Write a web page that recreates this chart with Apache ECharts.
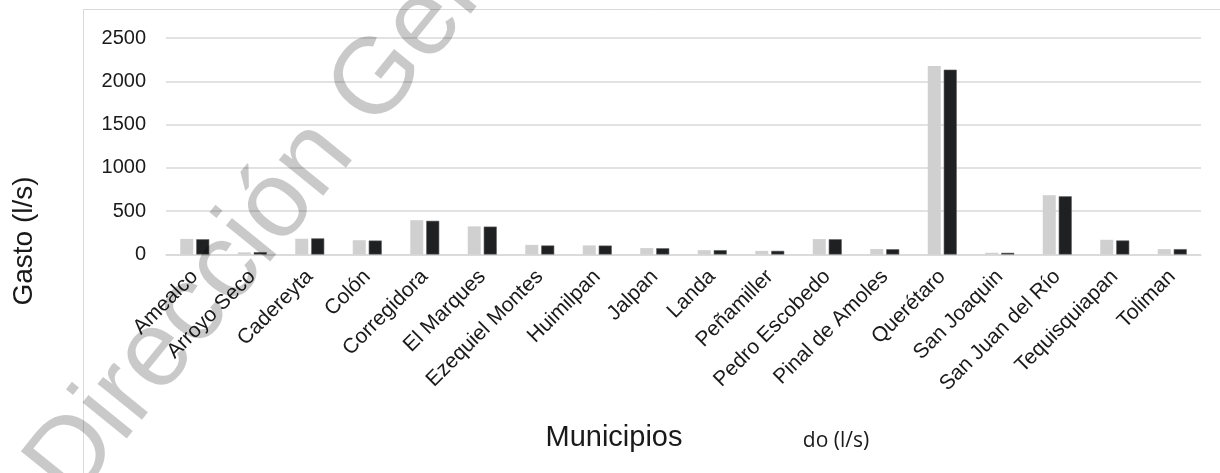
<!DOCTYPE html>
<html>
<head>
<meta charset="utf-8">
<script src="https://cdn.jsdelivr.net/npm/echarts@6/dist/echarts.min.js"></script>
<style>
  html, body { margin: 0; padding: 0; background: #fff; }
  #chart { width: 1220px; height: 473px; }
</style>
</head>
<body>
<div id="chart"></div>
<script>
// Municipios del estado y su gasto (l/s)
const municipios = [
  'Amealco', 'Arroyo Seco', 'Cadereyta', 'Colón', 'Corregidora', 'El Marques',
  'Ezequiel Montes', 'Huimilpan', 'Jalpan', 'Landa', 'Peñamiller', 'Pedro Escobedo',
  'Pinal de Amoles', 'Querétaro', 'San Joaquin', 'San Juan del Río', 'Tequisquiapan', 'Toliman'
];
const gastoConcesionado = [180, 25, 182, 165, 396, 325, 111, 105, 74, 50, 42, 178, 63, 2177, 20, 685, 170, 62];
const gastoExtraido     = [176, 27, 186, 161, 389, 322, 104, 103, 72, 50, 42, 176, 61, 2134, 19, 672, 162, 62];
const yTicks = { min: 0, max: 2500, interval: 500 };

const chart = echarts.init(document.getElementById('chart'), null, { renderer: 'canvas' });

const option = {
  backgroundColor: '#ffffff',
  animation: false,
  grid: { left: 166, right: 19, top: 38, bottom: 218.5, containLabel: false },
  xAxis: {
    type: 'category',
    data: municipios,
    axisLine: { show: true, lineStyle: { color: '#d9d9d9', width: 1.5 } },
    axisTick: { show: false },
    axisLabel: {
      rotate: 45,
      interval: 0,
      margin: 19,
      fontFamily: 'Liberation Sans, Arial, sans-serif',
      fontSize: 21,
      color: '#1a1a1a'
    }
  },
  yAxis: {
    type: 'value',
    min: yTicks.min,
    max: yTicks.max,
    interval: yTicks.interval,
    axisLine: { show: false },
    axisTick: { show: false },
    splitLine: { lineStyle: { color: '#d9d9d9', width: 1.5 } },
    axisLabel: {
      margin: 20,
      formatter: (v) => String(v),
      fontFamily: 'Liberation Sans, Arial, sans-serif',
      fontSize: 20,
      color: '#1a1a1a'
    }
  },
  series: [
    {
      name: 'Gasto concesionado (l/s)',
      type: 'bar',
      data: gastoConcesionado,
      barWidth: 13,
      barGap: '23%',
      itemStyle: { color: '#d0d0d0' }
    },
    {
      name: 'Gasto extraído (l/s)',
      type: 'bar',
      data: gastoExtraido,
      barWidth: 13,
      barGap: '23%',
      itemStyle: { color: '#1f2022', borderColor: '#5a5a5a', borderWidth: 0.6 }
    }
  ],
  graphic: [
    {
      type: 'rect',
      silent: true,
      shape: { x: 83.5, y: 9.5, width: 1400, height: 800 },
      style: { fill: 'none', stroke: '#d9d9d9', lineWidth: 1 },
      z: -1
    },
    {
      type: 'text',
      silent: true,
      x: 24, y: 241,
      rotation: Math.PI / 2,
      style: {
        text: 'Gasto (l/s)',
        fontFamily: 'Liberation Sans, Arial, sans-serif',
        fontSize: 28,
        fill: '#1a1a1a',
        align: 'center',
        verticalAlign: 'middle'
      }
    },
    {
      type: 'text',
      silent: true,
      x: 614, y: 438,
      style: {
        text: 'Municipios',
        fontFamily: 'Liberation Sans, Arial, sans-serif',
        fontSize: 29,
        fill: '#1a1a1a',
        align: 'center',
        verticalAlign: 'middle'
      }
    },
    {
      type: 'text',
      silent: true,
      x: 836, y: 441,
      style: {
        text: 'do (l/s)',
        fontFamily: 'Open Sans, sans-serif',
        fontSize: 21,
        fill: '#1a1a1a',
        align: 'center',
        verticalAlign: 'middle'
      }
    },
    {
      // diagonal translucent watermark over the plot
      type: 'text',
      silent: true,
      x: 8, y: 452,
      rotation: 51 * Math.PI / 180,
      z: 100,
      style: {
        text: 'Dirección General',
        fontFamily: 'Liberation Sans, Arial, sans-serif',
        fontSize: 108,
        fill: 'rgba(0,0,0,0.21)',
        align: 'left',
        verticalAlign: 'alphabetic'
      }
    }
  ]
};

chart.setOption(option);
</script>
</body>
</html>
